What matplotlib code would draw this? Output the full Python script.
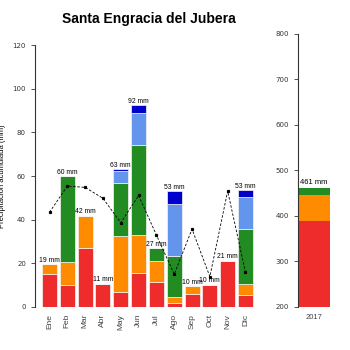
import numpy as np
import matplotlib
matplotlib.use('Agg')
import matplotlib.pyplot as plt

# Monthly data (mm), stacked in 5 classes
months = ['Ene', 'Feb', 'Mar', 'Abr', 'May', 'Jun', 'Jul', 'Ago', 'Sep', 'Oct', 'Nov', 'Dic']
clase1 = [15.3, 10.2, 26.9, 10.7, 7.0, 15.6, 11.6, 1.8, 6.1, 10.1, 21.2, 5.6]
clase2 = [4.2, 10.6, 14.9, 0.0, 25.5, 17.5, 9.5, 2.6, 3.5, 0.0, 0.0, 5.1]
clase3 = [0.0, 39.2, 0.0, 0.0, 24.4, 41.2, 5.8, 19.0, 0.0, 0.0, 0.0, 25.0]
clase4 = [0.0, 0.0, 0.0, 0.0, 5.3, 14.7, 0.0, 23.9, 0.0, 0.0, 0.0, 14.7]
clase5 = [0.0, 0.0, 0.0, 0.0, 1.0, 3.4, 0.0, 5.8, 0.0, 0.0, 0.0, 3.2]
totales = ['19 mm', '60 mm', '42 mm', '11 mm', '63 mm', '92 mm', '27 mm', '53 mm', '10 mm', '10 mm', '21 mm', '53 mm']
media = [43.4, 55.4, 54.8, 49.8, 38.6, 51.1, 33.0, 15.0, 35.7, 13.9, 53.1, 15.9]

# Annual bar
anio = ['2017']
anual = [389, 56, 16]
anual_label = '461 mm'

colores = ['#EE2C2C', '#FF8C00', '#228B22', '#6495ED', '#0000CD']

fig = plt.figure(figsize=(3.5, 3.5), dpi=100)
fig.text(0.424, 0.947, 'Santa Engracia del Jubera', ha='center', va='center',
         fontsize=10, fontweight='bold', family='Liberation Sans')

ax = fig.add_axes([0.1, 0.123, 0.637, 0.748])
x = np.arange(len(months))
bottom = np.zeros(len(months))
for vals, c in zip([clase1, clase2, clase3, clase4, clase5], colores):
    ax.bar(x, vals, 0.84, bottom=bottom, color=c, edgecolor='#f4f4f4', linewidth=0.5)
    bottom += np.array(vals)
for i, lab in enumerate(totales):
    ax.text(x[i], bottom[i] + 0.2, lab, ha='center', va='bottom', fontsize=4.9,
            family='Liberation Sans')
ax.plot(x, media, color='black', linestyle=(0, (3, 2)), linewidth=0.6,
        marker='s', markersize=1.3)

ax.set_xlim(-0.815, 11.7)
ax.set_ylim(0, 120)
ax.set_yticks(range(0, 121, 20))
ax.set_xticks(x)
ax.set_xticklabels(months, rotation=90, fontsize=6, color='#444444', family='Liberation Sans')
ax.tick_params(axis='x', length=0, pad=5)
ax.tick_params(axis='y', labelsize=5, colors='#333333', length=3, width=0.6)
for s in ['top', 'right', 'bottom']:
    ax.spines[s].set_visible(False)
ax.spines['left'].set_color('#333333')
ax.spines['left'].set_linewidth(0.8)
ax.set_ylabel('Precipitación acumulada (mm)', fontsize=5.5, family='Liberation Sans', labelpad=5)

ax2 = fig.add_axes([0.851, 0.123, 0.1, 0.78])
b = 0
for v, c in zip(anual, colores):
    ax2.bar(0, v, 0.9, bottom=b, color=c, align='edge', linewidth=0)
    b += v
ax2.text(0.45, b + 4, anual_label, ha='center', va='bottom', fontsize=5.5, family='Liberation Sans')
ax2.set_xlim(0, 0.98)
ax2.set_ylim(200, 800)
ax2.set_yticks(range(200, 801, 100))
ax2.set_xticks([0.45])
ax2.set_xticklabels(anio, fontsize=5.5, color='#444444', family='Liberation Sans')
ax2.tick_params(axis='x', length=0, pad=5)
ax2.tick_params(axis='y', labelsize=5, colors='#333333', length=3, width=0.6)
for s in ['top', 'right', 'bottom']:
    ax2.spines[s].set_visible(False)
ax2.spines['left'].set_color('#333333')
ax2.spines['left'].set_linewidth(0.8)

fig.savefig('out.png', dpi=100)
